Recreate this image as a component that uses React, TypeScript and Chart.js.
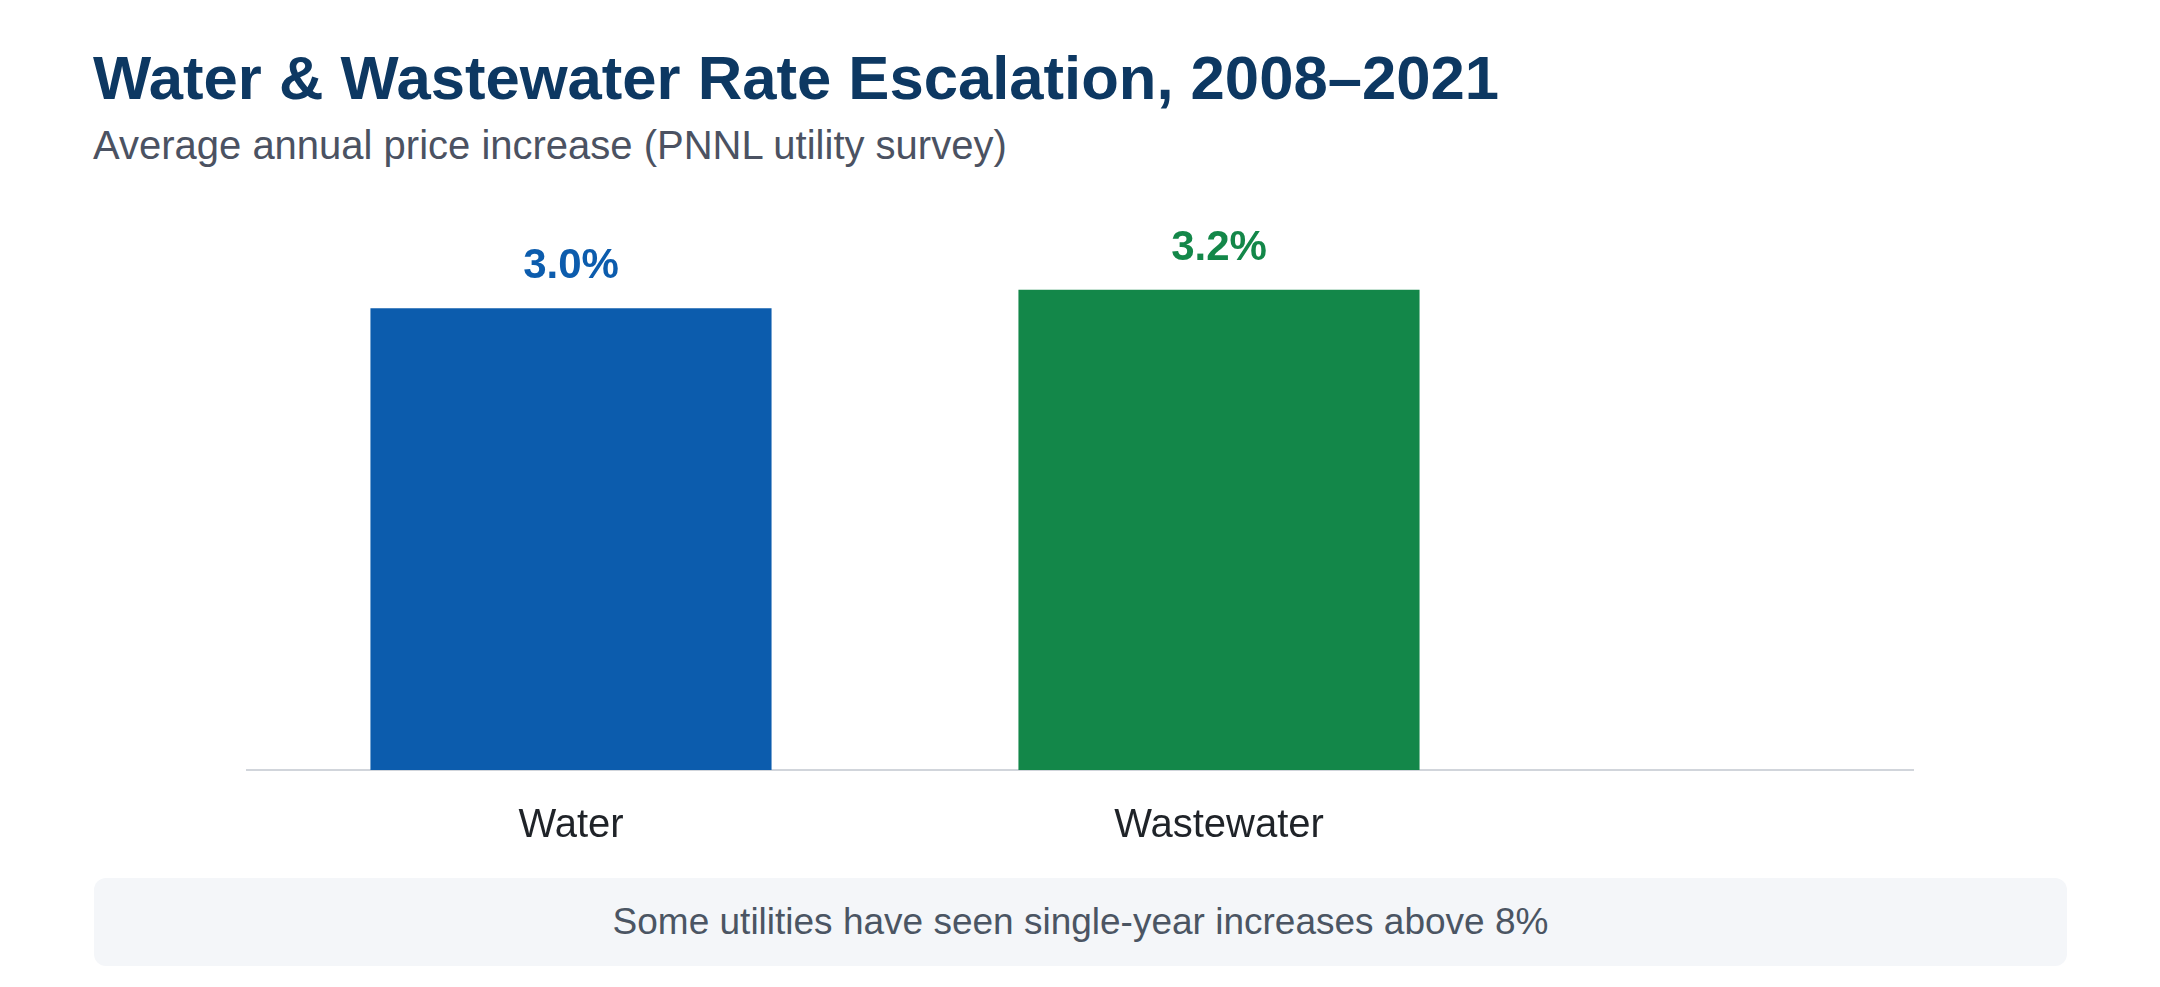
import React, { useEffect, useRef } from 'react';
import Chart from 'chart.js/auto';

const categories = ['Water', 'Wastewater'];
const values = [3.0, 3.2];
const barColors = ['#0c5cad', '#138749'];
const yMin = -2;
const yMax = 4;
const xMin = -0.5;
const xMax = 2.071;

const FONT = '"Liberation Sans", Arial, Helvetica, sans-serif';

const valueLabels = {
  id: 'valueLabels',
  afterDatasetsDraw(chart: Chart) {
    const ctx = chart.ctx;
    const meta = chart.getDatasetMeta(0);
    ctx.save();
    ctx.font = `bold 42px ${FONT}`;
    ctx.textAlign = 'center';
    ctx.textBaseline = 'alphabetic';
    meta.data.forEach((bar: any, i: number) => {
      ctx.fillStyle = barColors[i];
      ctx.fillText(values[i].toFixed(1) + '%', bar.x, bar.y - 30);
    });
    ctx.restore();
  },
};

const RateChart: React.FC = () => {
  const chartRef = useRef<HTMLCanvasElement>(null);
  const chartInstance = useRef<Chart | null>(null);

  useEffect(() => {
    if (chartInstance.current) {
      chartInstance.current.destroy();
    }
    const ctx = chartRef.current?.getContext('2d');
    if (!ctx) return;

    Chart.defaults.font.family = FONT;

    chartInstance.current = new Chart(ctx, {
      type: 'bar',
      data: {
        datasets: [
          {
            data: categories.map((_, i) => ({ x: i, y: values[i] })),
            backgroundColor: barColors,
            borderWidth: 0,
            base: yMin, // bars sit on the axis line
            categoryPercentage: 1,
            barPercentage: 0.619,
          },
        ],
      },
      options: {
        animation: false,
        responsive: true,
        maintainAspectRatio: false,
        layout: { padding: { left: 247, right: 247, top: 0, bottom: 0 } },
        plugins: {
          legend: { display: false },
          tooltip: { enabled: false },
        },
        scales: {
          x: {
            type: 'linear',
            min: xMin,
            max: xMax,
            offset: false,
            grid: { display: false, offset: false },
            border: { display: true, color: '#d1d5db', width: 2 },
            afterBuildTicks: (scale: any) => {
              scale.ticks = categories.map((_, i) => ({ value: i }));
            },
            afterFit: (scale: any) => {
              scale.height = 100;
            },
            ticks: {
              padding: 24,
              maxRotation: 0,
              autoSkip: false,
              color: '#1f2328',
              font: { size: 40 },
              callback: (v: any) => categories[v] ?? '',
            },
          },
          y: {
            display: false,
            min: yMin,
            max: yMax,
          },
        },
      },
      plugins: [valueLabels],
    });

    return () => {
      if (chartInstance.current) {
        chartInstance.current.destroy();
        chartInstance.current = null;
      }
    };
  }, []);

  return (
    <div style={{ position: 'absolute', left: 0, top: 216, width: 2160, height: 654 }}>
      <canvas ref={chartRef} />
    </div>
  );
};

const App: React.FC = () => {
  return (
    <div
      style={{
        position: 'fixed',
        left: 0,
        top: 0,
        width: 2160,
        height: 987,
        background: '#ffffff',
        fontFamily: FONT,
        overflow: 'hidden',
      }}
    >
      <div
        style={{
          position: 'absolute',
          left: 93,
          top: 47,
          fontSize: 61.6,
          lineHeight: 1,
          fontWeight: 'bold',
          color: '#0d3862',
          whiteSpace: 'nowrap',
        }}
      >
        Water &amp; Wastewater Rate Escalation, 2008–2021
      </div>
      <div
        style={{
          position: 'absolute',
          left: 93,
          top: 125,
          fontSize: 40,
          lineHeight: 1,
          color: '#4b5262',
          whiteSpace: 'nowrap',
        }}
      >
        Average annual price increase (PNNL utility survey)
      </div>
      <RateChart />
      <div
        style={{
          position: 'absolute',
          left: 94,
          top: 878,
          width: 1973,
          height: 88,
          borderRadius: 12,
          background: '#f4f6f9',
          display: 'flex',
          alignItems: 'center',
          justifyContent: 'center',
          fontSize: 37,
          color: '#4b5563',
        }}
      >
        Some utilities have seen single-year increases above 8%
      </div>
    </div>
  );
};

export default App;
